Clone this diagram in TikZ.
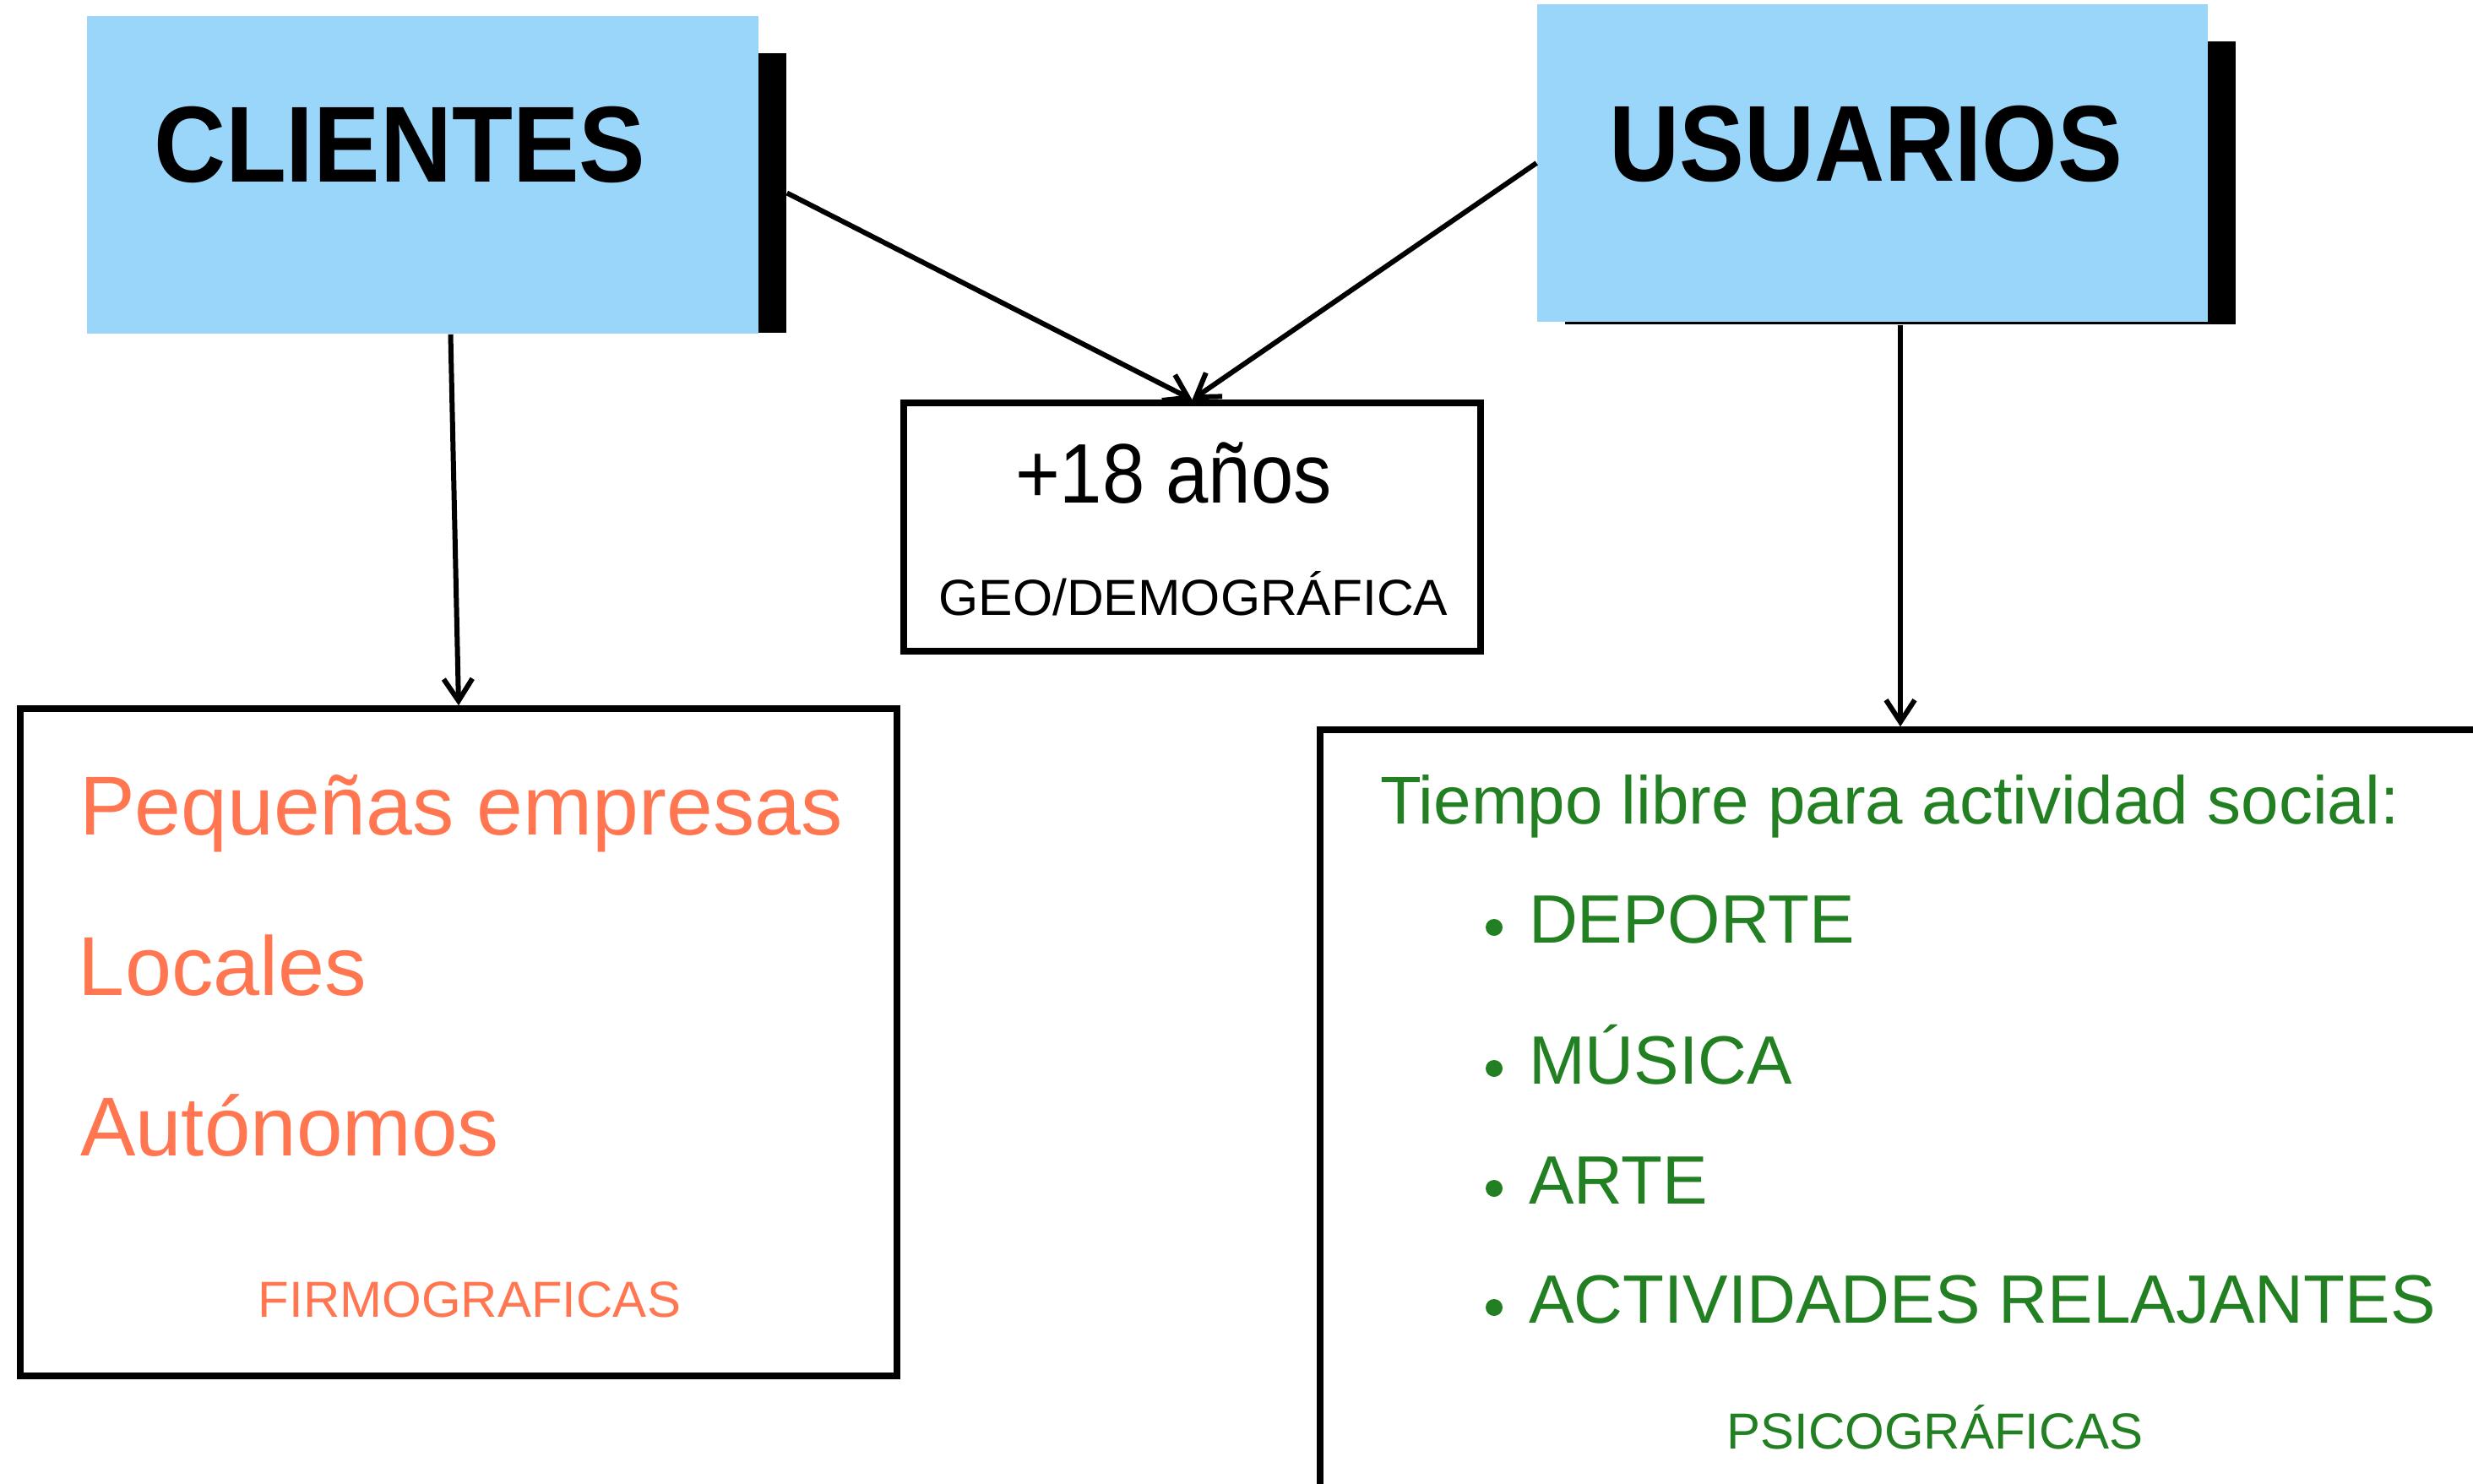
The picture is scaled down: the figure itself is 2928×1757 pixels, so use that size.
\documentclass[tikz,border=0pt]{standalone}
\usepackage{fontspec}
\usepackage{graphicx}
\setmainfont{Liberation Sans}
\usetikzlibrary{arrows.meta,calc}
\definecolor{skyb}{RGB}{153,214,250}
\definecolor{coral}{RGB}{255,118,80}
\definecolor{leaf}{RGB}{34,128,34}
\newcommand\sx[2]{\scalebox{#1}[1]{#2}}
\newcommand\fs[1]{\fontsize{#1}{#1}\selectfont}
\tikzset{
  bluebox/.style={rectangle, fill=skyb, draw=none, inner sep=0},
  shadowbox/.style={rectangle, fill=black, draw=none, inner sep=0},
  framebox/.style={rectangle, draw=black, line width=1.9pt, fill=none, inner sep=0},
  txt/.style={inner sep=0, outer sep=0, anchor=base west},
  ctxt/.style={inner sep=0, outer sep=0, anchor=base},
  conn/.style={draw=black, line width=1.5pt, -{Straight Barb[length=6.5pt,width=8.5pt,line width=1.5pt]}},
  dot/.style={circle, fill=leaf, draw=none, inner sep=0, minimum size=5pt},
}
\begin{document}
\begin{tikzpicture}[x=0.25pt, y=-0.25pt]
\useasboundingbox (0,0) rectangle (2928,1757);
\clip (0,0) rectangle (2928,1757);
% header boxes
\node[shadowbox, minimum width=198.75pt, minimum height=82.75pt] (clish) at (533.5,228.5) {};
\node[bluebox, minimum width=198.75pt, minimum height=94pt] (cli) at (500.5,207) {};
\node[shadowbox, minimum width=198.5pt, minimum height=83.75pt] (usush) at (2250,216.5) {};
\node[bluebox, minimum width=198.5pt, minimum height=94pt] (usu) at (2217,193) {};
\node[txt] (clit) at (182,215) {\fs{32pt}\bfseries\sx{0.92}{CLIENTES}};
\node[txt] (usut) at (1905,214) {\fs{32pt}\bfseries\sx{0.90}{USUARIOS}};
% middle box
\node[framebox, minimum width=170.75pt, minimum height=73.5pt] (mid) at (1411.5,624) {};
\node[txt] (edad) at (1202,595) {\fs{25pt}\sx{0.905}{+18 años}};
\node[ctxt] (geo) at (1413,728) {\fs{15pt}\sx{1.01}{GEO/DEMOGRÁFICA}};
% lower left box
\node[framebox, minimum width=259.5pt, minimum height=197.5pt] (lb) at (543,1234) {};
\node[txt, text=coral] (l1) at (94,988) {\fs{24.75pt}\sx{0.995}{Pequeñas empresas}};
\node[txt, text=coral] (l2) at (93,1178) {\fs{24.75pt}Locales};
\node[txt, text=coral] (l3) at (95,1368) {\fs{24.75pt}\sx{0.99}{Autónomos}};
\node[ctxt, text=coral] (l4) at (556,1559) {\fs{15pt}FIRMOGRAFICAS};
% lower right box
\node[framebox, minimum width=349.25pt, minimum height=231.5pt] (rb) at (2261.5,1327) {};
\node[txt, text=leaf] (r0) at (1634,975) {\fs{20pt}Tiempo libre para actividad social:};
\node[dot] (b1) at (1769,1098) {};
\node[txt, text=leaf] (r1) at (1810,1116) {\fs{20.25pt}\sx{0.99}{DEPORTE}};
\node[dot] (b2) at (1769,1265) {};
\node[txt, text=leaf] (r2) at (1810,1283) {\fs{20.25pt}\sx{0.99}{MÚSICA}};
\node[dot] (b3) at (1769,1407) {};
\node[txt, text=leaf] (r3) at (1810,1425) {\fs{20.25pt}\sx{0.99}{ARTE}};
\node[dot] (b4) at (1769,1548) {};
\node[txt, text=leaf] (r4) at (1810,1566) {\fs{20.25pt}\sx{0.99}{ACTIVIDADES RELAJANTES}};
\node[ctxt, text=leaf] (r5) at (2291,1715) {\fs{15pt}PSICOGRÁFICAS};
% connectors
\draw[conn] ([xshift=8.25pt]cli.south) -- (lb.north);
\draw[conn] (clish.east) -- (mid.north);
\draw[conn] (usu.west) -- (mid.north);
\draw[conn] (usush.south) -- (usush.south |- rb.north);
\end{tikzpicture}
\end{document}
